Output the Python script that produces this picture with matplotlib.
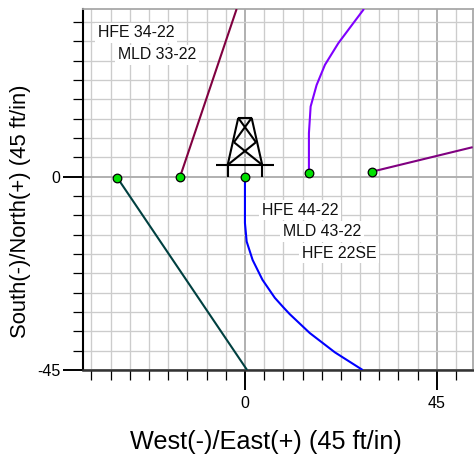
import matplotlib
matplotlib.use("Agg")
import matplotlib.pyplot as plt
import numpy as np

plt.rcParams['font.family'] = ['Liberation Sans', 'DejaVu Sans']
plt.rcParams['axes.unicode_minus'] = False

hfe_22se_x = [-29.9, 0.5]
hfe_22se_y = [-0.3, -45]
mld_33_x = [-15.2, -1.95]
mld_33_y = [0, 39]
hfe_44_x = [0, 0, 0.4, 1.8, 4.1, 7.0, 8.9, 10.5, 15.2, 21.1, 27.6]
hfe_44_y = [0, -10.8, -15.1, -19.4, -24.0, -28.2, -30.3, -32.0, -36.4, -40.9, -45]
mld_43_x = [15.0, 15.0, 15.4, 16.8, 18.75, 21.9, 25.4, 27.9]
mld_43_y = [0.8, 10.1, 16.3, 21.3, 26.0, 31.05, 35.7, 39]
hfe_34_x = [29.8, 53.4]
hfe_34_y = [1.15, 6.85]

series = [
    (hfe_22se_x, hfe_22se_y, '#004040'),
    (mld_33_x, mld_33_y, '#800040'),
    (hfe_44_x, hfe_44_y, '#0000ff'),
    (mld_43_x, mld_43_y, '#8000ff'),
    (hfe_34_x, hfe_34_y, '#800080'),
]

labels = ['HFE 34-22', 'MLD 33-22', 'HFE 44-22', 'MLD 43-22', 'HFE 22SE']
label_x = [-34.45, -29.75, 3.98, 8.9, 13.4]
label_y = [33.45, 28.3, -7.8, -12.7, -17.8]

derrick_segments = [
    ([-1.57, 1.57], [13.66, 13.66]),
    ([-1.57, -4.05], [13.66, 2.72]),
    ([1.57, 4.05], [13.66, 2.72]),
    ([-1.57, 2.58], [13.66, 8.0]),
    ([1.57, -2.58], [13.66, 8.0]),
    ([-2.58, 4.05], [8.0, 2.72]),
    ([2.58, -4.05], [8.0, 2.72]),
    ([-6.87, 6.87], [2.72, 2.72]),
    ([-4.05, -4.05], [2.72, 0]),
    ([4.05, 4.05], [2.72, 0]),
]

x_major = [0, 45]
y_major = [-45, 0]
x_minor = [v * 4.5 for v in range(-8, 12)]
y_minor = [v * 4.5 for v in range(-10, 9)]

W, H = 474, 465
fig = plt.figure(figsize=(W / 100, H / 100), dpi=100)
L, R, T, B = 83.3, 472.7, 9.0, 370.0
ax = fig.add_axes([L / W, 1 - B / H, (R - L) / W, (B - T) / H])
ax.set_xlim(-37.9, 53.4)
ax.set_ylim(-45, 39)

ax.set_xticks(x_major)
ax.set_yticks(y_major)
ax.set_xticks(x_minor, minor=True)
ax.set_yticks(y_minor, minor=True)
ax.grid(True, which='minor', color='#cccccc', lw=0.95, zorder=0)
ax.grid(True, which='major', color='#b0b0b0', lw=1.4, zorder=0)
ax.set_axisbelow(True)

ax.tick_params(which='major', length=14.5, width=1.4, color='black', labelsize=11.5, pad=2)
ax.tick_params(which='minor', length=7, width=0.9, color='black')
ax.tick_params(axis='x', which='major', pad=4)

for s in ['top', 'right']:
    ax.spines[s].set_color('#a8a8a8')
    ax.spines[s].set_linewidth(1.3)
ax.spines['left'].set_color('black')
ax.spines['left'].set_linewidth(1.5)
ax.spines['bottom'].set_color('#333333')
ax.spines['bottom'].set_linewidth(1.8)

for xs, ys, c in series:
    ax.plot(xs, ys, color=c, lw=1.5, zorder=3, solid_capstyle='butt')
    ax.plot(xs[0], ys[0], 'o', ms=6.2, mfc='#00e000', mec='black', mew=0.9, zorder=4)

for xs, ys in derrick_segments:
    ax.plot(xs, ys, color='black', lw=1.5, zorder=3, solid_capstyle='butt')

for t, x, y in zip(labels, label_x, label_y):
    ax.text(x, y, t, fontsize=11.4, color='#111111', ha='left', va='center', zorder=5,
            bbox=dict(facecolor='white', edgecolor='none', pad=2.0))

fig.text(265.5 / W, 1 - 441.5 / H, 'West(-)/East(+) (45 ft/in)', fontsize=18.2, ha='center', va='center')
fig.text(21 / W, 1 - 211 / H, 'South(-)/North(+) (45 ft/in)', fontsize=15.8, rotation=90, ha='center', va='center')

fig.savefig('out.png', dpi=100)
